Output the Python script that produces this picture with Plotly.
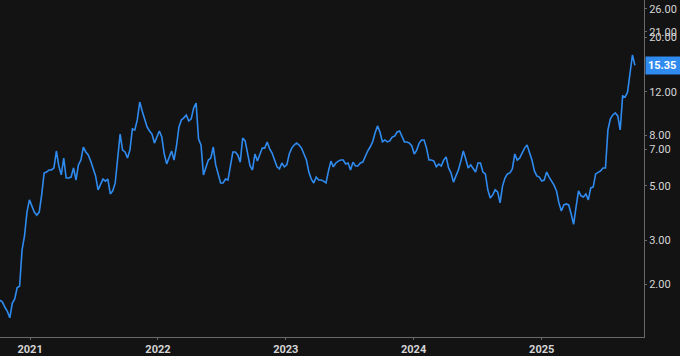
import math
import pandas as pd
import plotly.graph_objects as go

# weekly observations starting 2020-10-07
start_date = "2020-10-07"
prices = [
    1.72, 1.69, 1.61, 1.55, 1.46, 1.67, 1.74, 1.93, 1.96, 2.75,
    3.13, 3.91, 4.38, 4.10, 3.91, 3.80, 3.91, 4.59, 5.63, 5.68,
    5.79, 5.79, 5.90, 6.91, 6.01, 5.53, 6.47, 5.37, 5.37, 5.42,
    5.90, 5.27, 6.07, 6.35, 7.17, 6.85, 6.66, 6.29, 5.90, 5.48,
    4.81, 5.03, 5.32, 5.22, 5.32, 4.63, 4.77, 5.13, 6.54, 8.09,
    6.97, 6.85, 6.47, 6.97, 8.49, 8.41, 9.23, 10.91, 10.03, 9.32,
    8.65, 8.33, 8.09, 7.44, 7.87, 8.33, 7.87, 6.72, 6.13, 6.54,
    6.91, 6.35, 7.24, 8.65, 9.23, 9.41, 9.67, 9.14, 9.32, 10.32,
    10.80, 7.73, 7.31, 5.53, 5.96, 6.35, 6.47, 7.17, 6.07, 5.63,
    5.13, 5.13, 5.32, 5.27, 6.07, 6.85, 6.85, 6.66, 6.23, 7.80,
    7.59, 6.85, 6.01, 5.79, 6.72, 6.29, 6.72, 7.10, 7.10, 7.52,
    7.04, 6.78, 6.35, 5.96, 5.85, 6.18, 5.96, 6.07, 6.72, 7.10,
    7.31, 7.44, 7.31, 7.10, 6.72, 6.35, 5.68, 5.32, 5.13, 5.42,
    5.27, 5.27, 5.22, 5.13, 5.74, 6.29, 5.96, 6.18, 6.29, 6.35,
    6.35, 6.12, 6.18, 5.79, 6.23, 6.01, 6.01, 6.18, 6.23, 6.60,
    6.91, 7.17, 7.52, 8.17, 8.73, 8.25, 7.52, 7.66, 7.52, 7.59,
    7.87, 7.94, 8.25, 8.33, 7.87, 7.52, 7.52, 7.44, 7.24, 6.72,
    6.97, 7.44, 7.66, 7.66, 7.10, 6.35, 6.35, 6.29, 5.96, 6.12,
    6.01, 6.35, 6.54, 5.90, 5.63, 5.17, 5.48, 5.79, 6.29, 6.91,
    6.41, 5.90, 6.07, 5.90, 5.68, 6.18, 6.18, 5.68, 5.58, 4.81,
    4.46, 4.59, 4.81, 4.72, 4.26, 4.98, 5.37, 5.58, 5.63, 5.85,
    6.72, 6.35, 6.47, 6.78, 7.10, 7.31, 6.78, 6.35, 5.74, 5.48,
    5.42, 5.22, 5.27, 5.68, 5.42, 5.22, 5.03, 4.77, 4.26, 3.95,
    4.18, 4.22, 4.18, 3.84, 3.49, 4.10, 4.77, 4.55, 4.50, 4.63,
    4.38, 4.90, 4.94, 5.58, 5.68, 5.74, 5.90, 5.90, 8.41, 9.32,
    9.67, 9.86, 9.58, 8.41, 11.54, 11.43, 11.96, 14.04, 16.91, 15.35,
]
dates = pd.date_range(start_date, periods=len(prices), freq="7D")

y_tick_values = [2, 3, 5, 7, 8, 12, 20, 21, 26]
y_tick_labels = ["2.00", "3.00", "5.00", "7.00", "8.00", "12.00", "20.00", "21.00", "26.00"]
last_label = "15.35"

bg = "#131313"
line_col = "#2f8bf0"
axis_col = "#6a6a6a"
text_col = "#d6d6d6"

fig = go.Figure()
fig.add_trace(go.Scatter(
    x=dates, y=prices, mode="lines",
    line=dict(color=line_col, width=1.6),
    hoverinfo="skip", showlegend=False,
))

fig.update_layout(
    width=680, height=356,
    margin=dict(l=0, r=36, t=0, b=19),
    paper_bgcolor=bg, plot_bgcolor=bg,
    font=dict(family="Roboto, Inter, sans-serif", color=text_col, size=11),
    xaxis=dict(
        type="date",
        range=["2020-10-07", "2025-10-20"],
        showgrid=False, zeroline=False,
        showline=True, linecolor=axis_col, linewidth=1,
        ticks="outside", ticklen=2, tickcolor=axis_col,
        dtick="M12", tick0="2021-01-01", tickformat="%Y",
        tickfont=dict(size=11, color=text_col, weight="bold"),
    ),
    yaxis=dict(
        type="log", side="right",
        range=[0.0865, 1.4508],
        showgrid=False, zeroline=False,
        showline=True, linecolor=axis_col, linewidth=1,
        ticks="outside", ticklen=2, tickcolor=axis_col,
        tickvals=y_tick_values, ticktext=y_tick_labels,
        tickfont=dict(size=11, color=text_col),
    ),
)

fig.add_annotation(
    x=1, xref="paper", xanchor="left", xshift=1,
    y=math.log10(prices[-1]), yref="y", yanchor="middle",
    text=last_label, showarrow=False,
    bgcolor=line_col, borderpad=2,
    font=dict(color="white", size=11, family="Roboto, Inter, sans-serif", weight="bold"),
    width=34, align="left",
)

fig.write_html("out.html")
